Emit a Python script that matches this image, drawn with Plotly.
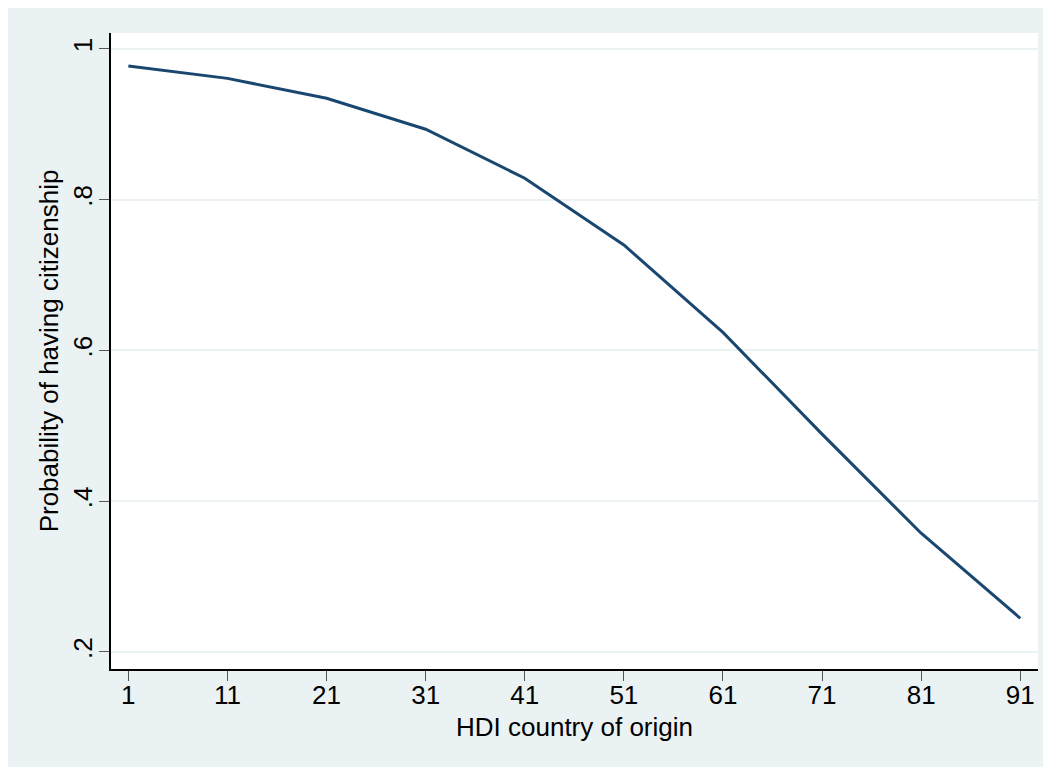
import plotly.graph_objects as go

# Data
hdi_origin = [1, 11, 21, 31, 41, 51, 61, 71, 81, 91]
prob_citizenship = [0.9775, 0.961, 0.9346, 0.8935, 0.8285, 0.740, 0.624, 0.489, 0.3575, 0.2447]
x_ticks = [1, 11, 21, 31, 41, 51, 61, 71, 81, 91]
y_ticks = [0.2, 0.4, 0.6, 0.8, 1.0]
y_tick_labels = [".2", ".4", ".6", ".8", "1"]
x_title = "HDI country of origin"
y_title = "Probability of having citizenship"

# page body adds an 8px margin, so the figure is slightly smaller than the window
W, H = 1043, 759
L, R, T, B = 103, 13, 25, 98

BG = "#EAF2F3"
FONT = "Liberation Sans, Arial, Helvetica, sans-serif"
FS = 26

fig = go.Figure()
fig.add_trace(go.Scatter(
    x=hdi_origin, y=prob_citizenship, mode="lines",
    line=dict(color="#1A476F", width=3),
    showlegend=False, hoverinfo="x+y",
))

fig.update_layout(
    width=W, height=H,
    margin=dict(l=L, r=R, t=T, b=B, pad=0),
    paper_bgcolor=BG,
    plot_bgcolor="white",
    font=dict(family=FONT, size=FS, color="black"),
    xaxis=dict(
        range=[-0.75, 92.79],
        tickmode="array", tickvals=x_ticks, ticktext=[str(v) for v in x_ticks],
        ticks="outside", ticklen=10, tickwidth=1, tickcolor="#555555",
        ticklabelstandoff=-8,
        showline=True, linecolor="black", linewidth=1.5,
        showgrid=False, zeroline=False,
        tickfont=dict(family=FONT, size=FS, color="black"),
    ),
    yaxis=dict(
        range=[0.1774, 1.0212],
        tickmode="array", tickvals=y_ticks, ticktext=y_tick_labels,
        tickangle=-90,
        ticks="outside", ticklen=10, tickwidth=1, tickcolor="#555555",
        ticklabelstandoff=-3,
        showline=True, linecolor="black", linewidth=1.5,
        showgrid=True, gridcolor=BG, gridwidth=1.5,
        zeroline=False,
        tickfont=dict(family=FONT, size=FS, color="black"),
        title=dict(text=y_title, font=dict(family=FONT, size=FS, color="black"), standoff=2),
    ),
    annotations=[dict(
        text=x_title, xref="paper", yref="paper", x=0.5, y=0,
        xanchor="center", yanchor="middle", yshift=-58, showarrow=False,
        font=dict(family=FONT, size=FS, color="black"),
    )],
)

fig.write_html("out.html")
